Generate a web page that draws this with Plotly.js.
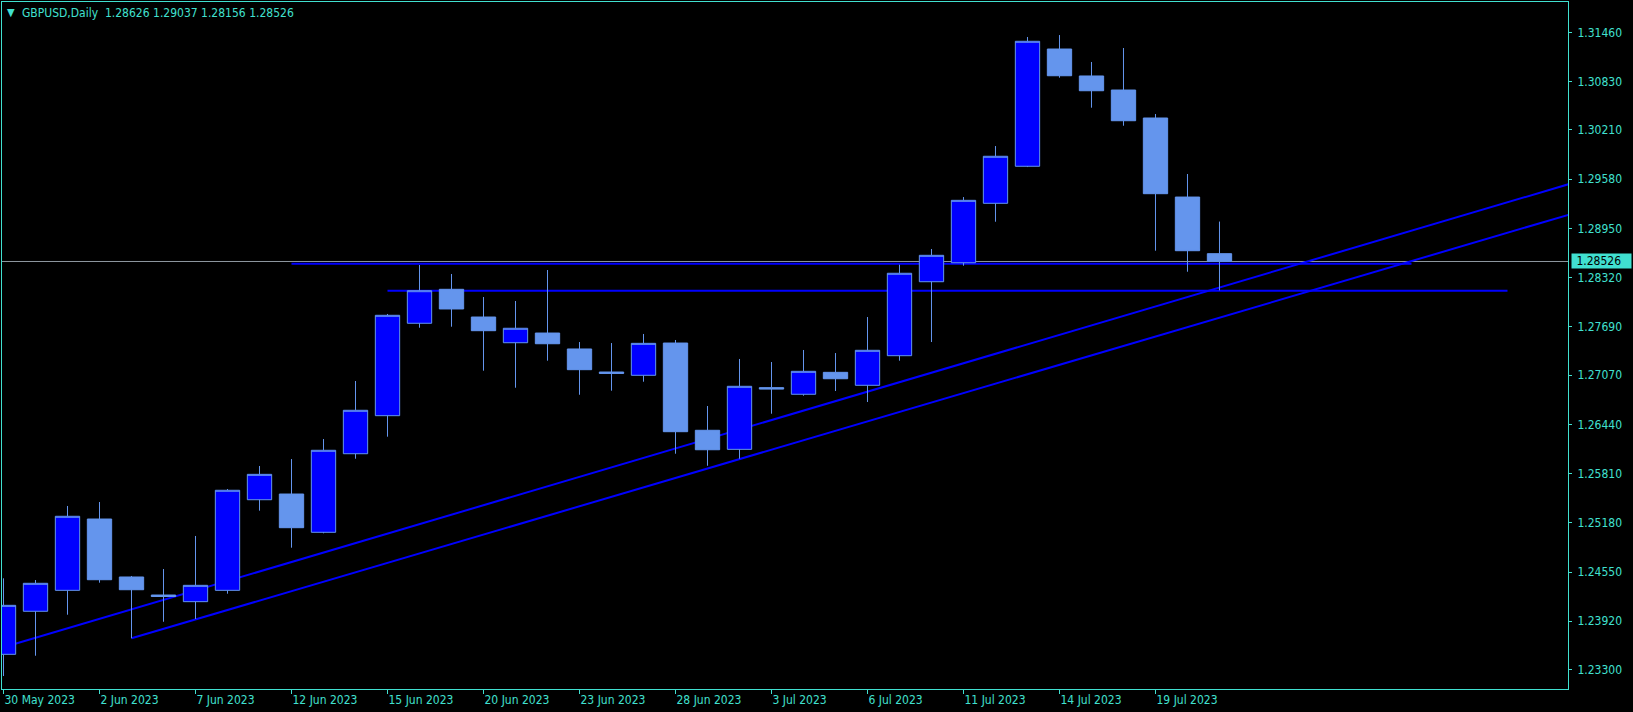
<!DOCTYPE html>
<html>
<head>
<meta charset="utf-8">
<script src="https://cdn.plot.ly/plotly-3.0.1.min.js"></script>
<style>
html,body{margin:0;padding:0;background:#000;}
#chart{width:1633px;height:712px;}
</style>
</head>
<body>
<div id="chart"></div>
<script>
// ---- data ----
const symbol = 'GBPUSD,Daily';
const dates = ['30 May 2023','31 May 2023','1 Jun 2023','2 Jun 2023','5 Jun 2023','6 Jun 2023','7 Jun 2023','8 Jun 2023','9 Jun 2023',
  '12 Jun 2023','13 Jun 2023','14 Jun 2023','15 Jun 2023','16 Jun 2023','19 Jun 2023','20 Jun 2023','21 Jun 2023','22 Jun 2023',
  '23 Jun 2023','26 Jun 2023','27 Jun 2023','28 Jun 2023','29 Jun 2023','30 Jun 2023','3 Jul 2023','4 Jul 2023','5 Jul 2023',
  '6 Jul 2023','7 Jul 2023','10 Jul 2023','11 Jul 2023','12 Jul 2023','13 Jul 2023','14 Jul 2023','17 Jul 2023','18 Jul 2023',
  '19 Jul 2023','20 Jul 2023','21 Jul 2023'];
const open  = [1.23497,1.24048,1.24316,1.25229,1.24487,1.24256,1.24171,1.24316,1.25476,
  1.25549,1.25059,1.26065,1.26552,1.27735,1.28170,1.27815,1.27486,1.27610,
  1.27406,1.27111,1.27069,1.27482,1.26365,1.26121,1.26911,1.26826,1.27107,
  1.26941,1.27320,1.28267,1.28510,1.29271,1.29745,1.31246,1.30901,1.30721,
  1.30363,1.29351,1.28626];
const high  = [1.24470,1.24448,1.25396,1.25447,1.24500,1.24589,1.25012,1.25613,1.25908,
  1.25997,1.26253,1.26996,1.27854,1.28481,1.28366,1.28071,1.28020,1.28417,
  1.27495,1.27482,1.27598,1.27521,1.26676,1.27278,1.27239,1.27393,1.27354,
  1.27815,1.28485,1.28686,1.29351,1.30004,1.31400,1.31425,1.31080,1.31259,
  1.30414,1.29646,1.29037];
const low   = [1.23219,1.23479,1.24004,1.24414,1.23702,1.23914,1.23949,1.24273,1.25336,
  1.24862,1.25046,1.26001,1.26283,1.27678,1.27691,1.27128,1.26910,1.27256,
  1.26820,1.26872,1.26987,1.26065,1.25911,1.26001,1.26577,1.26808,1.26868,
  1.26727,1.27256,1.27495,1.28472,1.29035,1.29735,1.30879,1.30495,1.30264,
  1.28664,1.28395,1.28156];
const close = [1.24124,1.24406,1.25264,1.24452,1.24324,1.24237,1.24380,1.25597,1.25801,
  1.25118,1.26109,1.26621,1.27837,1.28152,1.27918,1.27640,1.27671,1.27473,
  1.27141,1.27093,1.27478,1.26347,1.26116,1.26928,1.26893,1.27120,1.27025,
  1.27389,1.28375,1.28605,1.29309,1.29873,1.31345,1.30904,1.30712,1.30328,
  1.29394,1.28664,1.28526];
const dateTicks = ['30 May 2023','2 Jun 2023','7 Jun 2023','12 Jun 2023','15 Jun 2023','20 Jun 2023','23 Jun 2023',
  '28 Jun 2023','3 Jul 2023','6 Jul 2023','11 Jul 2023','14 Jul 2023','19 Jul 2023'];
const priceTicks = [1.23300,1.23920,1.24550,1.25180,1.25810,1.26440,1.27070,1.27690,1.28320,1.28950,1.29580,1.30210,1.30830,1.31460];
const priceTickText = ['1.23300','1.23920','1.24550','1.25180','1.25810','1.26440','1.27070','1.27690','1.28320','1.28950','1.29580','1.30210','1.30830','1.31460'];
// horizontal levels (bar index start/end)
const levelPrice = [1.28498, 1.28152];
const levelStartBar = [9, 12];
const levelEndBar = [44, 47];
// trend lines: two anchor points each (bar index, price), drawn as rays to the right
const trendBarA = [0, 4];
const trendPriceA = [1.23588, 1.23702];
const trendBarB = [38, 38];
const trendPriceB = [1.28193, 1.27807];

// ---- styling ----
const FG = '#40E0D0';
const FONT = "'DejaVu Sans Condensed', 'DejaVu Sans', sans-serif";
const xRange = [-0.047, 48.891];
const yRange = [1.23053, 1.31848];
const n = close.length;

const shapes = [];
// bid line
shapes.push({type:'line', layer:'below', xref:'paper', x0:0, x1:1, yref:'y', y0:close[n-1], y1:close[n-1],
  line:{color:'#8E979F', width:1}});
levelPrice.forEach((p,k)=>{
  shapes.push({type:'line', layer:'below', xref:'x', yref:'y', x0:levelStartBar[k], x1:levelEndBar[k], y0:p, y1:p,
    line:{color:'#0000FF', width:2}});
});
trendBarA.forEach((b,k)=>{
  const slope = (trendPriceB[k]-trendPriceA[k])/(trendBarB[k]-b);
  const xEnd = xRange[1] + 1;
  shapes.push({type:'line', layer:'below', xref:'x', yref:'y', x0:b, y0:trendPriceA[k],
    x1:xEnd, y1:trendPriceA[k] + slope*(xEnd-b), line:{color:'#0000FF', width:2}});
});

const trace = {
  type:'candlestick', x:dates, open:open, high:high, low:low, close:close,
  increasing:{fillcolor:'#0000FF', line:{color:'#6495ED', width:1}},
  decreasing:{fillcolor:'#6495ED', line:{color:'#6495ED', width:1}},
  whiskerwidth:0, hoverinfo:'skip', showlegend:false
};

const hdr = symbol + '\u00a0 ' + [open[n-1],high[n-1],low[n-1],close[n-1]].map(v=>v.toFixed(5)).join(' ');

const layout = {
  width:1633, height:712,
  margin:{l:2, r:65, t:2, b:23, pad:0},
  paper_bgcolor:'#000', plot_bgcolor:'#000',
  showlegend:false, hovermode:false, boxgap:0.24, boxgroupgap:0,
  font:{family:FONT, size:12, color:FG},
  xaxis:{type:'category', range:xRange, rangeslider:{visible:false}, showgrid:false, zeroline:false,
    showline:true, mirror:true, linecolor:FG, linewidth:1,
    tickmode:'array', tickvals:dateTicks, ticktext:dateTicks, ticks:'outside', ticklen:4, tickcolor:FG,
    ticklabelposition:'outside right', tickfont:{family:FONT, size:12, color:FG}, fixedrange:true},
  yaxis:{side:'right', range:yRange, showgrid:false, zeroline:false,
    showline:true, mirror:true, linecolor:FG, linewidth:1,
    tickmode:'array', tickvals:priceTicks, ticktext:priceTickText, ticks:'outside', ticklen:3, tickcolor:FG,
    ticklabelstandoff:3, tickfont:{family:FONT, size:12, color:FG}, fixedrange:true},
  shapes:shapes,
  annotations:[
    {xref:'paper', yref:'paper', x:0, y:1, xanchor:'left', yanchor:'middle', xshift:18, yshift:-10.5,
      text:hdr, showarrow:false, font:{family:FONT, size:12, color:FG}},
    {xref:'paper', yref:'paper', x:0, y:1, xanchor:'center', yanchor:'middle', xshift:9, yshift:-10,
      text:'\u25BC', showarrow:false, font:{family:FONT, size:11, color:FG}},
    {xref:'paper', yref:'y', x:1, y:close[n-1], xanchor:'left', yanchor:'middle', xshift:2.5,
      text:'\u00a0' + close[n-1].toFixed(5), showarrow:false, bgcolor:FG, borderpad:1, width:57, height:12, align:'left',
      font:{family:FONT, size:12, color:'#000'}}
  ]
};

Plotly.newPlot('chart', [trace], layout, {displayModeBar:false, staticPlot:true});
</script>
</body>
</html>
